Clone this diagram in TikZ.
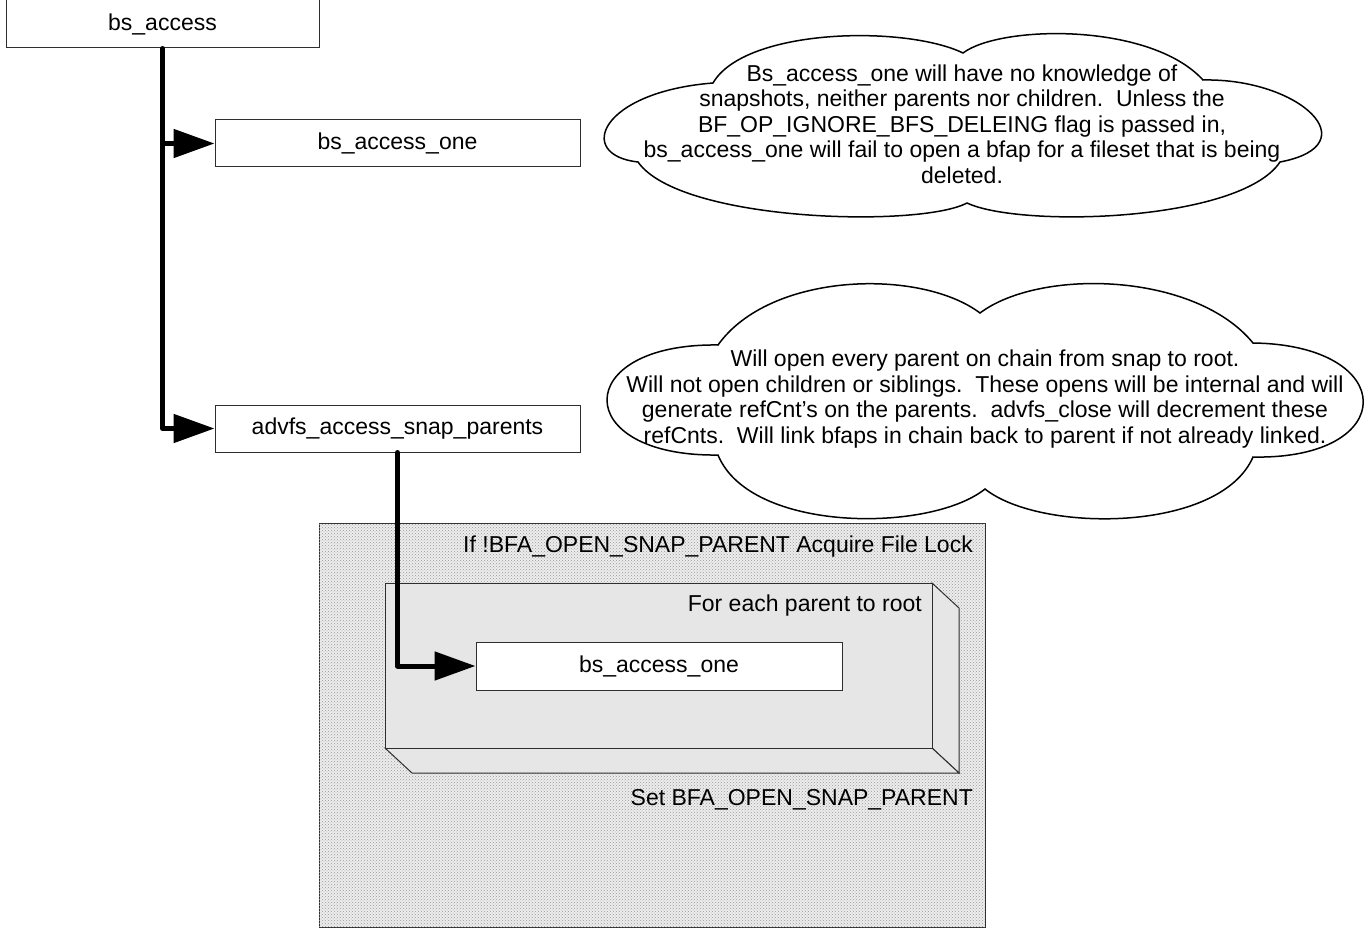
\documentclass[tikz,border=0pt]{standalone}
\usepackage{fontspec}
\setmainfont{Liberation Sans}
\usetikzlibrary{arrows.meta,patterns}
\definecolor{edge}{HTML}{2E2E2E}
\definecolor{facegray}{HTML}{E6E6E6}
\definecolor{framegray}{HTML}{EDEDED}
\newcommand\diagfont{\fontsize{23}{25.5}\selectfont}
\tikzset{
  fnbox/.style={draw=edge, line width=1pt, fill=white, inner sep=0pt,
    minimum width=365pt, minimum height=47pt, font=\diagfont},
  flow/.style={line width=5pt, line cap=round, line join=round,
    -{Triangle[length=41pt,width=28pt]}},
  cloudline/.style={draw=black, line width=1.5pt, fill=white, line join=miter},
  face/.style={draw=edge, line width=1pt, fill=facegray},
  note/.style={align=center, inner sep=0pt, font=\diagfont},
  tag/.style={anchor=east, inner sep=0pt, font=\diagfont},
}
\begin{document}
\begin{tikzpicture}[x=1pt, y=-1pt]
\useasboundingbox (0,0) rectangle (1368,928);

% call tree boxes
\node[fnbox, minimum width=313pt, minimum height=48pt] (bsa) at (162.5,24) {bs\_access};
\node[fnbox] (bao1) at (397.5,143.5) {bs\_access\_one};
\node[fnbox] (asp) at (397.5,428.5) {advfs\_access\_snap\_parents};

% file-lock frame with stippled fill
\node[draw=edge, line width=1pt, fill=framegray,
      postaction={pattern=crosshatch dots, pattern color=black!40},
      minimum width=666pt, minimum height=404pt, inner sep=0pt] (lock) at (652,725) {};
\node[tag] (locktxt) at (973,547) {If !BFA\_OPEN\_SNAP\_PARENT Acquire File Lock};
\node[tag] (settxt) at (973,800) {Set BFA\_OPEN\_SNAP\_PARENT};

% loop block drawn as a raised slab
\filldraw[face] (932,583) -- (959,608) -- (959,773) -- (932,748) -- cycle;
\filldraw[face] (385,748) -- (932,748) -- (959,773) -- (412,773) -- cycle;
\filldraw[face] (385,583) rectangle (932,748);
\node[tag] (looptxt) at (922,606) {For each parent to root};
\node[fnbox, minimum width=366pt, minimum height=48pt] (bao2) at (659,666) {bs\_access\_one};

% call connectors
\draw[flow] (bsa.south) |- (asp.west);
\draw[flow] (bsa.south |- bao1.west) -- (bao1.west);
\draw[flow] (asp.south) |- (bao2.west);

% comment clouds
\draw[cloudline] (713,83) .. controls (745,28) and (905,25) .. (963,53)
  .. controls (1000,25) and (1150,22) .. (1203,80)
  .. controls (1300,78) and (1370,145) .. (1280,162)
  .. controls (1240,222) and (1020,228) .. (967,203)
  .. controls (920,228) and (680,222) .. (638,162)
  .. controls (575,155) and (600,92) .. cycle;
\node[note] (note1) at (962,124) {Bs\_access\_one will have no knowledge of\\
  snapshots, neither parents nor children.\ \ Unless the\\
  BF\_OP\_IGNORE\_BFS\_DELEING flag is passed in,\\
  bs\_access\_one will fail to open a bfap for a fileset that is being\\
  deleted.};

\draw[cloudline] (718,345) .. controls (770,272) and (920,268) .. (980,313)
  .. controls (1040,268) and (1195,272) .. (1253,343)
  .. controls (1400,345) and (1400,460) .. (1253,457)
  .. controls (1220,533) and (1040,533) .. (985,489)
  .. controls (930,533) and (750,533) .. (718,455)
  .. controls (570,457) and (570,343) .. cycle;
\node[note] (note2) at (985,399) {Will open every parent on chain from snap to root.\\
  Will not open children or siblings.\ \ These opens will be internal and will\\
  generate refCnt’s on the parents.\ \ advfs\_close will decrement these\\
  refCnts.\ \ Will link bfaps in chain back to parent if not already linked.};
\end{tikzpicture}
\end{document}
